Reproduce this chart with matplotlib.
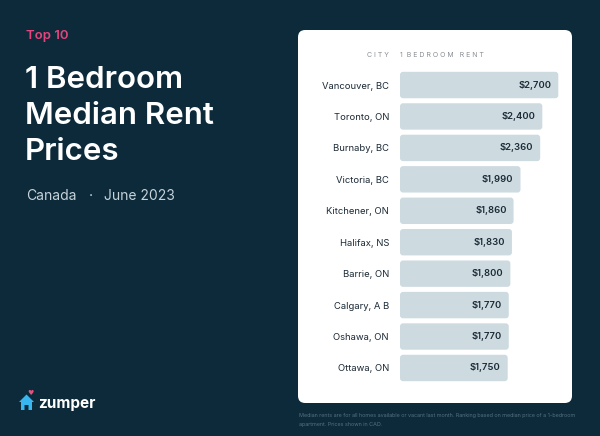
import numpy as np
import matplotlib.pyplot as plt
from matplotlib.patches import FancyBboxPatch, Polygon

# data
cities = ["Vancouver, BC", "Toronto, ON", "Burnaby, BC", "Victoria, BC", "Kitchener, ON",
          "Halifax, NS", "Barrie, ON", "Calgary, A B", "Oshawa, ON", "Ottawa, ON"]
rents = [2700, 2400, 2360, 1990, 1860, 1830, 1800, 1770, 1770, 1750]
price_labels = ["$2,700", "$2,400", "$2,360", "$1,990", "$1,860",
                "$1,830", "$1,800", "$1,770", "$1,770", "$1,750"]

BG = "#0c2a3a"
BAR = "#cddbe1"
DARK = "#1c2a36"
PINK = "#e5457c"
FONT = ["Inter", "DejaVu Sans"]

W, H = 600, 436
fig = plt.figure(figsize=(6, 4.36), dpi=100, facecolor=BG)


def fx(px):
    return px / W


def fy(py):
    return 1 - py / H


# white panel
panel = FancyBboxPatch((fx(298), fy(403)), fx(572) - fx(298), fy(30) - fy(403),
                       boxstyle="round,pad=0,rounding_size=0.012",
                       transform=fig.transFigure, facecolor="white",
                       edgecolor="none", mutation_aspect=W / H, zorder=-1)
fig.patches.append(panel)

# left side text
fig.text(fx(26), fy(36), "Top 10", color=PINK, fontsize=9.5, fontweight="semibold",
         family=FONT, va="center", ha="left")
for i, line in enumerate(["1 Bedroom", "Median Rent", "Prices"]):
    fig.text(fx(25), fy(80 + 36 * i), line, color="white", fontsize=22.5,
             fontweight="semibold", family=FONT, va="center", ha="left")
fig.text(fx(26), fy(196), "Canada", color="#c6d3da", fontsize=10,
         family=FONT, va="center", ha="left")
fig.text(fx(91), fy(196), "·", color="#c6d3da", fontsize=10,
         family=FONT, va="center", ha="center")
fig.text(fx(104), fy(196), "June 2023", color="#c6d3da", fontsize=10,
         family=FONT, va="center", ha="left")

# zumper logo
house = [(19, 402), (26.5, 394.5), (34, 402), (32, 402), (32, 410), (28.5, 410),
         (28.5, 405), (24.5, 405), (24.5, 410), (21, 410), (21, 402)]
fig.patches.append(Polygon([(fx(x), fy(y)) for x, y in house], closed=True,
                           transform=fig.transFigure, facecolor="#38b6ef",
                           edgecolor="none"))
fig.text(fx(30.5), fy(392.5), "♥", color="#e0557f", fontsize=5,
         family=["DejaVu Sans"], ha="center", va="center")
fig.text(fx(38), fy(403), "zumper", color="white", fontsize=11,
         fontweight="bold", family=FONT, ha="left", va="center")

# footnote
fig.text(fx(299), fy(415), "Median rents are for all homes available or vacant last month. "
         "Ranking based on median price of a 1-bedroom", color="#55707f", fontsize=3.9,
         family=FONT, ha="left", va="center")
fig.text(fx(299), fy(424), "apartment. Prices shown in CAD.", color="#55707f",
         fontsize=3.9, family=FONT, ha="left", va="center")

# column headers
fig.text(fx(389), fy(55), "C I T Y", color="#8a8f94", fontsize=5,
         family=FONT, ha="right", va="center")
fig.text(fx(400), fy(55), "1  B E D R O O M   R E N T", color="#8a8f94", fontsize=5,
         family=FONT, ha="left", va="center")

# bar chart axes
ax = fig.add_axes([fx(400), fy(383.7), fx(560) - fx(400), fy(69.3) - fy(383.7)])
ax.set_zorder(2)
ax.set_facecolor("none")
base = -272
y = np.arange(len(cities))
bars = ax.barh(y, np.array(rents) - base, left=base, height=0.84, color="none")
ax.set_xlim(base, 2732)
ax.set_ylim(len(cities) - 0.5, -0.5)

# rounded bars: data units per pixel for the aspect correction
x_per_px = (2732 - base) / 160.0
y_per_px = len(cities) / 314.4
for b in bars:
    rb = FancyBboxPatch((b.get_x(), b.get_y()), b.get_width(), b.get_height(),
                        boxstyle="round,pad=0,rounding_size=%f" % (3 * x_per_px),
                        mutation_aspect=y_per_px / x_per_px,
                        facecolor=BAR, edgecolor="none")
    ax.add_patch(rb)

for i, (v, lab) in enumerate(zip(rents, price_labels)):
    ax.annotate(lab, (v, i), xytext=(-5, 0), textcoords="offset points",
                ha="right", va="center", fontsize=6.8, fontweight="semibold",
                color=DARK, family=FONT)

ax.set_yticks(y)
ax.set_yticklabels(cities, family=FONT, fontsize=6.8, color=DARK)
ax.tick_params(axis="y", length=0, pad=8)
ax.set_xticks([])
for s in ax.spines.values():
    s.set_visible(False)

fig.savefig("out.png", dpi=100, facecolor=BG)
